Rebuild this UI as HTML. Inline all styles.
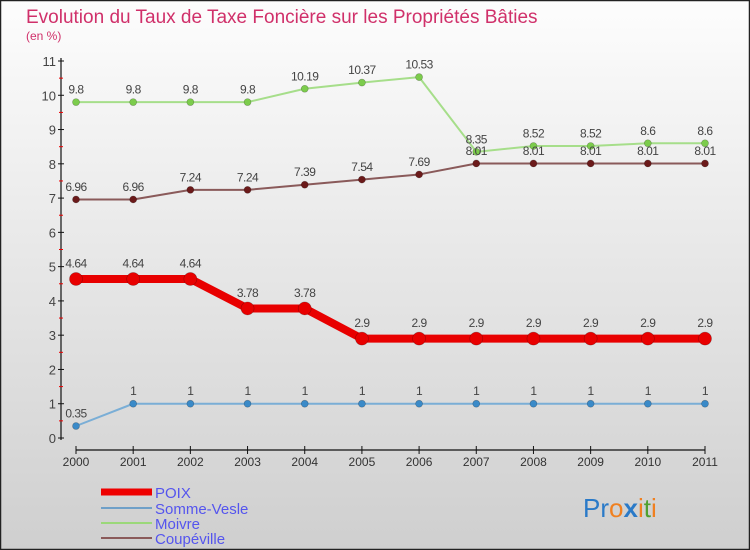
<!DOCTYPE html>
<html><head><meta charset="utf-8"><style>
body{margin:0}
#c{width:750px;height:550px;position:relative;overflow:hidden;font-family:"Liberation Sans",sans-serif}
</style></head><body>
<div id="c">
<svg id="s" width="750" height="550" xmlns="http://www.w3.org/2000/svg">
<defs><linearGradient id="bg" x1="0" y1="0" x2="0" y2="1"><stop offset="0" stop-color="#fdfdfd"/><stop offset="1" stop-color="#cfcfcf"/></linearGradient></defs>
<rect x="0.5" y="0.5" width="749" height="549" fill="url(#bg)" stroke="#222" stroke-width="1.5"/>
<text x="26" y="23" font-size="19" fill="#d0306a">Evolution du Taux de Taxe Foncière sur les Propriétés Bâties</text>
<text x="26" y="40" font-size="12" fill="#d0306a">(en %)</text>
<g id="axes"></g><g id="series"></g>
<g>
<line x1="101" y1="492" x2="152" y2="492" stroke="#e00" stroke-width="7"/>
<text x="155" y="498" font-size="15" fill="#5555ee">POIX</text>
<line x1="101" y1="508" x2="152" y2="508" stroke="#6fa0c8" stroke-width="2"/>
<text x="155" y="514" font-size="15" fill="#5555ee">Somme-Vesle</text>
<line x1="101" y1="523" x2="152" y2="523" stroke="#9bd87a" stroke-width="2"/>
<text x="155" y="529" font-size="15" fill="#5555ee">Moivre</text>
<line x1="101" y1="538" x2="152" y2="538" stroke="#8a5a5a" stroke-width="2"/>
<text x="155" y="544" font-size="15" fill="#5555ee">Coupéville</text>
</g>
<text x="583" y="517" font-size="26"><tspan fill="#2a7ac8">Pr</tspan><tspan fill="#f08020">o</tspan><tspan fill="#2a7ac8" font-weight="bold">x</tspan><tspan fill="#f08020">i</tspan><tspan fill="#50a030">t</tspan><tspan fill="#f08020">i</tspan></text>
</svg></div>
<script>
const years=[2000,2001,2002,2003,2004,2005,2006,2007,2008,2009,2010,2011];
const poix=[4.64,4.64,4.64,3.78,3.78,2.9,2.9,2.9,2.9,2.9,2.9,2.9];
const sommeVesle=[0.35,1,1,1,1,1,1,1,1,1,1,1];
const moivre=[9.8,9.8,9.8,9.8,10.19,10.37,10.53,8.35,8.52,8.52,8.6,8.6];
const coupeville=[6.96,6.96,7.24,7.24,7.39,7.54,7.69,8.01,8.01,8.01,8.01,8.01];
const yTicks=[0,1,2,3,4,5,6,7,8,9,10,11];
const NS="http://www.w3.org/2000/svg";
const X=i=>76+i*(705-76)/(years.length-1);
const Y=v=>438-v*(438-61)/11;
function mk(p,t,a){const e=document.createElementNS(NS,t);for(const k in a)e.setAttribute(k,a[k]);p.appendChild(e);return e;}
const ax=document.getElementById('axes');
let l=mk(ax,'line',{x1:61,y1:58,x2:61,y2:440,stroke:'#111','stroke-width':1.2});


l=mk(ax,'line',{x1:76,y1:450,x2:705,y2:450,stroke:'#111','stroke-width':1.2});


yTicks.forEach(v=>{
 mk(ax,'line',{x1:58,x2:64,y1:Y(v),y2:Y(v),stroke:'#111'});
 if(v<11)mk(ax,'line',{x1:59,x2:63,y1:Y(v+0.5),y2:Y(v+0.5),stroke:'#e00'});
 const t=mk(ax,'text',{x:56,y:Y(v)+5,'font-size':13,fill:'#444','text-anchor':'end'});
 t.textContent=v;
 
 
});
years.forEach((yr,i)=>{
 mk(ax,'line',{x1:X(i),x2:X(i),y1:446,y2:454,stroke:'#111'});
 const t=mk(ax,'text',{x:X(i),y:466,'font-size':12,fill:'#333','text-anchor':'middle'});
 t.textContent=yr;
 
 
});
const sg=document.getElementById('series');
function series(vals,name,col,dot,w,r){
 const g=mk(sg,'g',{});
 
 
 const p=mk(g,'polyline',{points:vals.map((v,i)=>X(i)+','+Y(v)).join(' '),fill:'none',stroke:col,'stroke-width':w,'stroke-linejoin':'round'});
 
 
 vals.forEach((v,i)=>{
  const c=mk(g,'circle',{cx:X(i),cy:Y(v),r:r,fill:dot,stroke:'rgba(0,0,0,0.3)','stroke-width':0.6});
  
  
  const t=mk(g,'text',{x:X(i),y:Y(v)-r-5,'font-size':12,fill:'#444','text-anchor':'middle','letter-spacing':'-0.5'});
  t.textContent=v;
  
  
 });
}
series(moivre,'moivre','#a6de8a','#7ccc4c',2,3.5);
series(coupeville,'coupeville','#8a5a5a','#6b1a1a',2,3.5);
series(sommeVesle,'somme-vesle','#7aaed6','#3a8ac8',2,3.5);
series(poix,'poix','#e80000','#e80000',8,6.5);
</script>
</body></html>
